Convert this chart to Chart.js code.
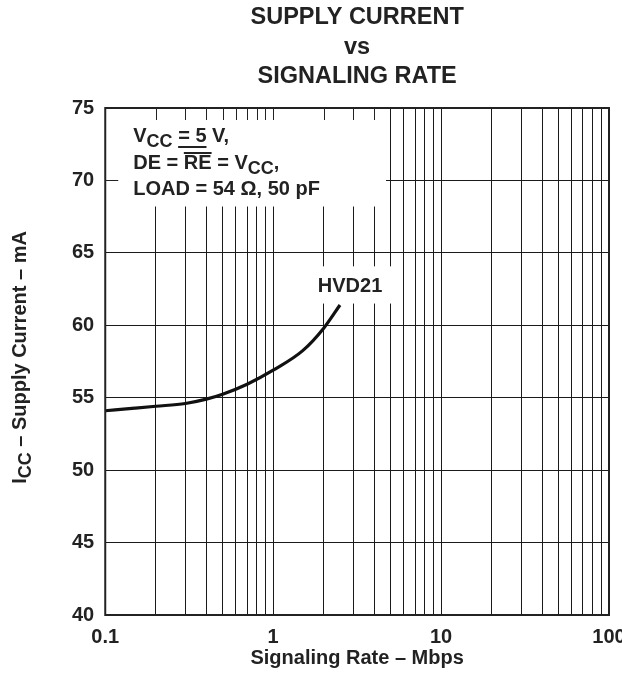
<!DOCTYPE html>
<html>
<head>
<meta charset="utf-8">
<script src="https://cdn.jsdelivr.net/npm/chart.js@4"></script>
<style>
  html, body { margin: 0; padding: 0; background: #fff; }
  #wrap { width: 622px; height: 681px; }
</style>
</head>
<body>
<div id="wrap"><canvas id="chart" width="622" height="681"></canvas></div>
<script>
const rates = [0.1, 0.15, 0.2, 0.3, 0.4, 0.5, 0.7, 1, 1.5, 2, 2.5];
const supplyCurrent = [54.1, 54.28, 54.41, 54.6, 54.9, 55.24, 55.93, 56.9, 58.25, 59.8, 61.4];

const xTickValues = [
  0.1, 0.2, 0.3, 0.4, 0.5, 0.6, 0.7, 0.8, 0.9,
  1, 2, 3, 4, 5, 6, 7, 8, 9,
  10, 20, 30, 40, 50, 60, 70, 80, 90, 100,
];
const xLabelValues = [0.1, 1, 10, 100];
const yTickValues = [40, 45, 50, 55, 60, 65, 70, 75];

const titleLines = ["SUPPLY CURRENT", "vs", "SIGNALING RATE"];
const xTitle = "Signaling Rate \u2013 Mbps";
const curveLabel = "HVD21";

const FONT = "'Liberation Sans', Arial, Helvetica, sans-serif";
const INK = "#222";

const bold = (size) => `bold ${size}px ${FONT}`;

// draws pieces of text one after another, some of them as subscripts
const draw_runs = (ctx, runs, x, y) => {
  let cx = x;
  const spans = [];
  runs.forEach((r) => {
    ctx.font = bold(r.sub ? 18 : 20);
    const w = ctx.measureText(r.text).width;
    ctx.fillText(r.text, cx, y + (r.sub ? 5 : 0));
    spans.push({ start: cx, end: cx + w, run: r });
    cx += w;
  });
  return spans;
};

const runs_width = (ctx, runs) =>
  runs.reduce((sum, r) => {
    ctx.font = bold(r.sub ? 18 : 20);
    return sum + ctx.measureText(r.text).width;
  }, 0);

const decorations = {
  id: "decorations",
  beforeDatasetsDraw(chart) {
    const { ctx, chartArea: a, scales } = chart;
    const x = scales.x;
    const y = scales.y;
    ctx.save();

    // conditions box, top left
    const boxRight = x.getPixelForValue(4.7);
    const boxBottom = y.getPixelForValue(68.2);
    ctx.fillStyle = "#fff";
    ctx.fillRect(a.left, a.top, boxRight - a.left, boxBottom - a.top);

    ctx.strokeStyle = INK;
    ctx.lineWidth = 1;
    ctx.beginPath();
    xTickValues.forEach((v) => {
      const px = Math.round(x.getPixelForValue(v)) + 0.5;
      if (px > a.left + 3 && px < boxRight) {
        ctx.moveTo(px, a.top);
        ctx.lineTo(px, a.top + 12);
      }
    });
    yTickValues.forEach((v) => {
      const py = Math.round(y.getPixelForValue(v)) + 0.5;
      if (py > a.top + 3 && py < boxBottom) {
        ctx.moveTo(a.left, py);
        ctx.lineTo(a.left + 13, py);
      }
    });
    ctx.stroke();

    ctx.fillStyle = INK;
    ctx.textAlign = "left";
    ctx.textBaseline = "alphabetic";
    const tx = a.left + 28;

    const line1 = draw_runs(ctx, [
      { text: "V" },
      { text: "CC", sub: true },
      { text: " " },
      { text: "= 5", mark: "under" },
      { text: " V," },
    ], tx, a.top + 34);
    const line2 = draw_runs(ctx, [
      { text: "DE = " },
      { text: "RE", mark: "over" },
      { text: " = V" },
      { text: "CC", sub: true },
      { text: "," },
    ], tx, a.top + 61);
    draw_runs(ctx, [{ text: "LOAD = 54 \u03a9, 50 pF" }], tx, a.top + 87);

    line1.filter((s) => s.run.mark === "under").forEach((s) => {
      ctx.fillRect(s.start, a.top + 38, s.end - s.start, 2);
    });
    line2.filter((s) => s.run.mark === "over").forEach((s) => {
      ctx.fillRect(s.start, a.top + 44, s.end - s.start, 2);
    });

    // curve label
    const lx1 = x.getPixelForValue(1.85);
    const lx2 = x.getPixelForValue(5.55);
    const ly1 = y.getPixelForValue(64.07);
    const ly2 = y.getPixelForValue(61.5);
    ctx.fillStyle = "#fff";
    ctx.fillRect(lx1, ly1, lx2 - lx1, ly2 - ly1);
    ctx.fillStyle = INK;
    ctx.font = bold(20);
    ctx.textAlign = "center";
    ctx.textBaseline = "middle";
    ctx.fillText(curveLabel, x.getPixelForValue(2.87), y.getPixelForValue(62.7));

    ctx.restore();
  },
  afterDraw(chart) {
    const { ctx, chartArea: a } = chart;
    ctx.save();

    ctx.strokeStyle = INK;
    ctx.lineWidth = 2;
    ctx.strokeRect(a.left, a.top, a.right - a.left, a.bottom - a.top);

    const cx = (a.left + a.right) / 2;
    ctx.fillStyle = INK;
    ctx.textAlign = "center";
    ctx.textBaseline = "alphabetic";
    ctx.font = bold(23.5);
    const baselines = [24, 53.5, 83];
    titleLines.forEach((t, i) => ctx.fillText(t, cx, baselines[i]));

    ctx.font = bold(20);
    ctx.fillText(xTitle, cx, a.bottom + 49);

    // y axis title with subscript
    const yRuns = [
      { text: "I" },
      { text: "CC", sub: true },
      { text: " \u2013 Supply Current \u2013 mA" },
    ];
    ctx.translate(26, (a.top + a.bottom) / 2 - 4);
    ctx.rotate(-Math.PI / 2);
    ctx.textAlign = "left";
    const w = runs_width(ctx, yRuns);
    draw_runs(ctx, yRuns, -w / 2, 0);

    ctx.restore();
  },
};

const config = {
  type: "line",
  data: {
    datasets: [
      {
        label: curveLabel,
        data: rates.map((r, i) => ({ x: r, y: supplyCurrent[i] })),
        borderColor: "#111",
        borderWidth: 3.2,
        pointRadius: 0,
        cubicInterpolationMode: "monotone",
        fill: false,
      },
    ],
  },
  options: {
    responsive: false,
    animation: false,
    layout: { padding: { top: 108, left: 61, right: 13, bottom: 22 } },
    plugins: {
      legend: { display: false },
      tooltip: { enabled: false },
      title: { display: false },
    },
    scales: {
      x: {
        type: "logarithmic",
        min: 0.1,
        max: 100,
        afterBuildTicks: (scale) => {
          scale.ticks = xTickValues.map((v) => ({ value: v }));
        },
        afterFit: (scale) => {
          scale.paddingRight = 0;
        },
        ticks: {
          autoSkip: false,
          maxRotation: 0,
          padding: 10,
          color: INK,
          font: { family: FONT, size: 20, weight: "bold" },
          callback: (value) => (xLabelValues.includes(value) ? String(value) : ""),
        },
        grid: { color: "#1a1a1a", lineWidth: 1, drawTicks: false },
        border: { display: false },
      },
      y: {
        type: "linear",
        min: 40,
        max: 75,
        afterBuildTicks: (scale) => {
          scale.ticks = yTickValues.map((v) => ({ value: v }));
        },
        ticks: {
          padding: 11,
          color: INK,
          font: { family: FONT, size: 20, weight: "bold" },
        },
        grid: { color: "#1a1a1a", lineWidth: 1, drawTicks: false },
        border: { display: false },
      },
    },
  },
  plugins: [decorations],
};

new Chart(document.getElementById("chart"), config);
</script>
</body>
</html>
